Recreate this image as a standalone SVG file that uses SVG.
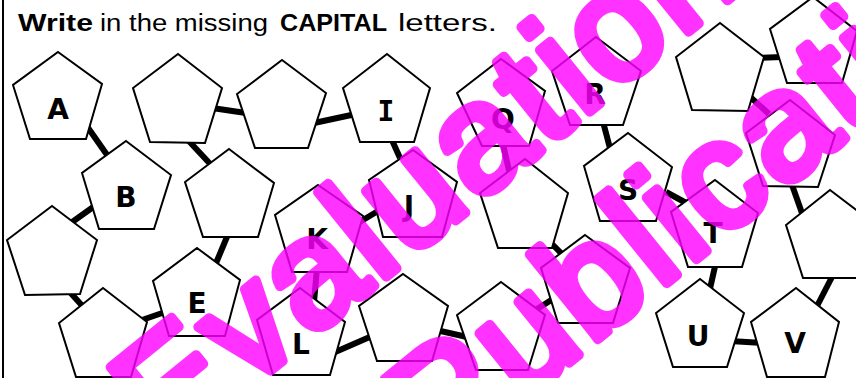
<svg xmlns="http://www.w3.org/2000/svg" width="856" height="378" viewBox="0 0 856 378">
<style>
.c{stroke:#000;stroke-width:6;stroke-linecap:butt;fill:none}
.p{fill:#fff;stroke:#000;stroke-width:2;stroke-linejoin:miter}
.l{font-family:"DejaVu Sans","Liberation Sans",sans-serif;font-weight:bold;font-size:28px;fill:#000;text-anchor:middle}
.m{font-family:"DejaVu Sans Mono","Liberation Mono",monospace}
.t{font-family:"Liberation Sans",sans-serif;font-size:23px;fill:#000}
.b{font-weight:bold}
.w{font-family:"Liberation Sans",sans-serif;font-size:150px;letter-spacing:5px;fill:#ff00ff;stroke:#ff00ff;stroke-width:10;stroke-linejoin:round;stroke-linecap:round}
</style>
<rect width="856" height="378" fill="#fff"/>
<line x1="3" y1="0" x2="3" y2="378" stroke="#000" stroke-width="2"/>
<g id="title">
<text class="t b" x="18" y="31" textLength="75" lengthAdjust="spacingAndGlyphs">Write</text>
<text class="t" x="100" y="31" textLength="168" lengthAdjust="spacingAndGlyphs">in the missing</text>
<text class="t b" x="280" y="31" textLength="107" lengthAdjust="spacingAndGlyphs">CAPITAL</text>
<text class="t" x="398" y="31" textLength="99" lengthAdjust="spacingAndGlyphs">letters.</text>
</g>
<g id="connectors">
<line class="c" x1="84" y1="122" x2="112" y2="162"/>
<line class="c" x1="212" y1="108" x2="246" y2="113"/>
<line class="c" x1="314" y1="123" x2="356" y2="114"/>
<line class="c" x1="186" y1="138" x2="214" y2="168"/>
<line class="c" x1="391" y1="138" x2="400" y2="158"/>
<line class="c" x1="96" y1="205" x2="68" y2="225"/>
<line class="c" x1="68" y1="290" x2="86" y2="310"/>
<line class="c" x1="142" y1="320" x2="168" y2="311"/>
<line class="c" x1="229" y1="232" x2="214" y2="268"/>
<line class="c" x1="358" y1="223" x2="383" y2="208"/>
<line class="c" x1="317" y1="268" x2="314" y2="302"/>
<line class="c" x1="333" y1="353" x2="372" y2="336"/>
<line class="c" x1="436" y1="330" x2="467" y2="337"/>
<line class="c" x1="534" y1="311" x2="556" y2="297"/>
<line class="c" x1="548" y1="240" x2="566" y2="258"/>
<line class="c" x1="502" y1="140" x2="510" y2="175"/>
<line class="c" x1="602" y1="118" x2="611" y2="152"/>
<line class="c" x1="666" y1="192" x2="690" y2="205"/>
<line class="c" x1="716" y1="262" x2="709" y2="293"/>
<line class="c" x1="730" y1="341" x2="763" y2="343"/>
<line class="c" x1="833" y1="275" x2="815" y2="310"/>
<line class="c" x1="791" y1="182" x2="803" y2="216"/>
<line class="c" x1="747" y1="94" x2="769" y2="114"/>
<line class="c" x1="758" y1="58" x2="782" y2="57"/>
</g>
<g id="nA"><polygon class="p" points="58,52 102,84 86,139 30,139 13,85"/><text class="l" x="58" y="119">A</text></g>
<g id="n2"><polygon class="p" points="178,54 222,88 205,143 150,142 133,88"/></g>
<g id="n3"><polygon class="p" points="282,60 326,93 308,148 255,148 237,94"/></g>
<g id="nI"><polygon class="p" points="387,54 430,88 414,142 360,142 343,88"/><text class="l m" x="386" y="121">I</text></g>
<g id="nJ"><polygon class="p" points="413,150 457,182 442,237 383,237 369,180"/><text class="l" x="409" y="216">J</text></g>
<g id="nQ"><polygon class="p" points="501,59 545,91 529,146 482,146 457,93"/><text class="l" x="503" y="129">Q</text></g>
<g id="nR"><polygon class="p" points="596,37 641,71 623,125 570,125 552,71"/><text class="l" x="595" y="104">R</text></g>
<g id="nB"><polygon class="p" points="126,141 171,175 154,229 99,229 82,173"/><text class="l" x="126" y="207">B</text></g>
<g id="nC"><polygon class="p" points="229,149 274,183 258,237 203,237 185,182"/></g>
<g id="nD"><polygon class="p" points="52,206 97,240 80,294 25,295 7,240"/></g>
<g id="nF"><polygon class="p" points="103,288 147,322 131,377 76,377 59,323"/></g>
<g id="nE"><polygon class="p" points="197,248 240,280 225,336 169,336 153,281"/><text class="l" x="197" y="313">E</text></g>
<g id="nK"><polygon class="p" points="318,185 363,216 347,272 292,272 275,215"/><text class="l" x="317" y="249">K</text></g>
<g id="nL"><polygon class="p" points="300,288 345,322 330,375 273,375 257,320"/><text class="l" x="301" y="354">L</text></g>
<g id="nM"><polygon class="p" points="403,274 448,306 432,361 377,361 359,306"/></g>
<g id="nN"><polygon class="p" points="501,282 545,315 528,370 476,370 457,315"/></g>
<g id="nO"><polygon class="p" points="585,235 630,268 613,323 558,323 541,268"/></g>
<g id="nP"><polygon class="p" points="525,159 568,193 552,248 498,248 480,193"/></g>
<g id="nS"><polygon class="p" points="628,133 672,167 656,221 600,221 584,166"/><text class="l" x="628" y="200">S</text></g>
<g id="nT"><polygon class="p" points="715,180 758,213 742,267 688,267 671,212"/><text class="l" x="713" y="243">T</text></g>
<g id="nU"><polygon class="p" points="700,279 744,313 727,367 673,367 656,313"/><text class="l" x="698" y="346">U</text></g>
<g id="nV"><polygon class="p" points="796,288 839,322 825,377 767,377 751,322"/><text class="l" x="795" y="353">V</text></g>
<g id="nW"><polygon class="p" points="830,190 875,224 858,278 803,278 786,225"/></g>
<g id="nX"><polygon class="p" points="790,100 835,135 818,187 763,186 746,133"/></g>
<g id="nY"><polygon class="p" points="720,23 764,57 748,111 692,110 676,57"/></g>
<g id="nZ"><polygon class="p" points="813,-3 857,31 842,83 787,83 770,29"/></g>
<g id="watermark" opacity="0.8">
<text class="w" transform="translate(166,455) rotate(-39)">Evaluation</text>
<text class="w" transform="translate(440,467) rotate(-39)">Publication</text>
</g>
</svg>
